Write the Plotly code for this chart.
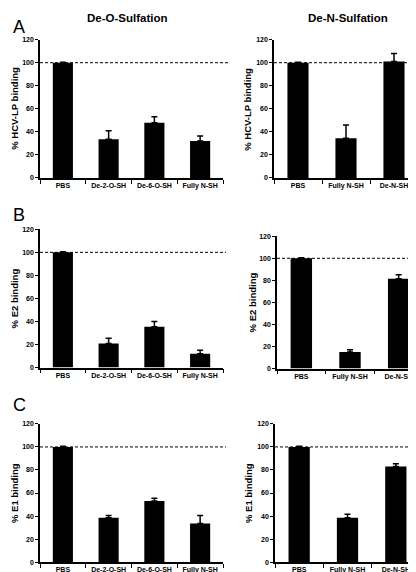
import plotly.graph_objects as go

W, H = 416, 572

cats_O = ["PBS", "De-2-O-SH", "De-6-O-SH", "Fully N-SH"]
cats_N = ["PBS", "Fully N-SH", "De-N-SH"]

hcv_O = [100, 33.5, 48, 32]
hcv_O_err = [0.5, 7.5, 5, 4.5]
hcv_N = [100, 34.5, 101]
hcv_N_err = [0.5, 11.5, 7]

e2_O = [100, 21, 35.5, 12]
e2_O_err = [0.5, 4.5, 4.5, 3]
e2_N = [100, 15, 81.5]
e2_N_err = [0.5, 2, 3.5]

e1_O = [100, 38.5, 53, 33.5]
e1_O_err = [0.5, 2, 2.5, 7]
e1_N = [100, 38.5, 83]
e1_N_err = [0.5, 3, 2.5]

y_titles = ["% HCV-LP binding", "% E2 binding", "% E1 binding"]
panel_letters = ["A", "B", "C"]
col_titles = ["De-O-Sulfation", "De-N-Sulfation"]
y_ticks = [0, 20, 40, 60, 80, 100, 120]
ref_level = 100

FONT = "Liberation Sans, Arial, Helvetica, sans-serif"


def px(x):
    return x / W


def py(y):
    return 1 - y / H


# (x0, x1, ytop, ybottom, dash_end, ytitle_x)
panels = [
    (cats_O, hcv_O, hcv_O_err, (32, 215, 28, 168, 220, 7)),
    (cats_N, hcv_N, hcv_N_err, (266, 410, 28, 168, 416, 240)),
    (cats_O, e2_O, e2_O_err, (32, 215, 220, 360, 218, 6)),
    (cats_N, e2_N, e2_N_err, (269, 415, 227, 361, 416, 244)),
    (cats_O, e1_O, e1_O_err, (32, 215, 417, 557, 218, 6)),
    (cats_N, e1_N, e1_N_err, (267, 412, 417, 557, 416, 240)),
]

fig = go.Figure()
shapes = []
annotations = []
layout = {}

for i, (cats, vals, errs, geo) in enumerate(panels):
    x0, x1, yt, yb, dend, ytx = geo
    n = i + 1
    xa = "x" if n == 1 else f"x{n}"
    ya = "y" if n == 1 else f"y{n}"
    fig.add_trace(go.Bar(
        x=cats, y=vals, xaxis=xa, yaxis=ya,
        marker=dict(color="black", line=dict(width=0)),
        width=0.44,
        error_y=dict(type="data", symmetric=False, array=errs,
                     arrayminus=[0] * len(errs), color="black",
                     thickness=1.5, width=3),
        showlegend=False,
    ))
    xkey = "xaxis" if n == 1 else f"xaxis{n}"
    ykey = "yaxis" if n == 1 else f"yaxis{n}"
    layout[xkey] = dict(
        domain=[px(x0), px(x1)], anchor=ya, type="category",
        range=[-0.5, len(cats) - 0.5], showline=True, linecolor="black",
        linewidth=1.5, ticks="outside", tickson="boundaries", ticklen=4,
        tickwidth=1.2, tickcolor="black", showgrid=False, zeroline=False,
        tickfont=dict(family=FONT, size=7, color="black", weight="bold"),
        fixedrange=True,
    )
    layout[ykey] = dict(
        domain=[py(yb), py(yt)], anchor=xa, range=[0, 120],
        tickvals=y_ticks, showline=True, linecolor="black", linewidth=1.5,
        ticks="outside", ticklen=3, tickwidth=1.2, tickcolor="black",
        showgrid=False, zeroline=False,
        tickfont=dict(family=FONT, size=7, color="black", weight="bold"),
        fixedrange=True,
    )
    # dashed reference line at 100
    shapes.append(dict(
        type="line", xref="paper", yref=ya, x0=px(x0), x1=px(dend),
        y0=ref_level, y1=ref_level,
        line=dict(color="black", width=1, dash="3px,2px"),
    ))
    # y axis title
    row = i // 2
    annotations.append(dict(
        text=f"<b>{y_titles[row]}</b>", xref="paper", yref="paper",
        x=px(ytx), y=py((yt + yb) / 2), textangle=-90, showarrow=False,
        xanchor="center", yanchor="middle",
        font=dict(family=FONT, size=9.5, color="black"),
    ))

# panel letters
for letter, ycen in zip(panel_letters, [15, 206, 398]):
    annotations.append(dict(
        text=letter, xref="paper", yref="paper", x=px(3), y=py(ycen),
        xanchor="left", yanchor="middle", showarrow=False,
        font=dict(family=FONT, size=18, color="black"),
    ))

# column titles
for t, xc in zip(col_titles, [120, 340]):
    annotations.append(dict(
        text=f"<b>{t}</b>", xref="paper", yref="paper", x=px(xc), y=py(6),
        xanchor="center", yanchor="middle", showarrow=False,
        font=dict(family=FONT, size=11.5, color="black"),
    ))

fig.update_layout(
    width=W, height=H, margin=dict(l=0, r=0, t=0, b=0),
    paper_bgcolor="white", plot_bgcolor="white",
    shapes=shapes, annotations=annotations, bargap=0.56,
    **layout,
)

fig.write_html("out.html", config={"displayModeBar": False})
